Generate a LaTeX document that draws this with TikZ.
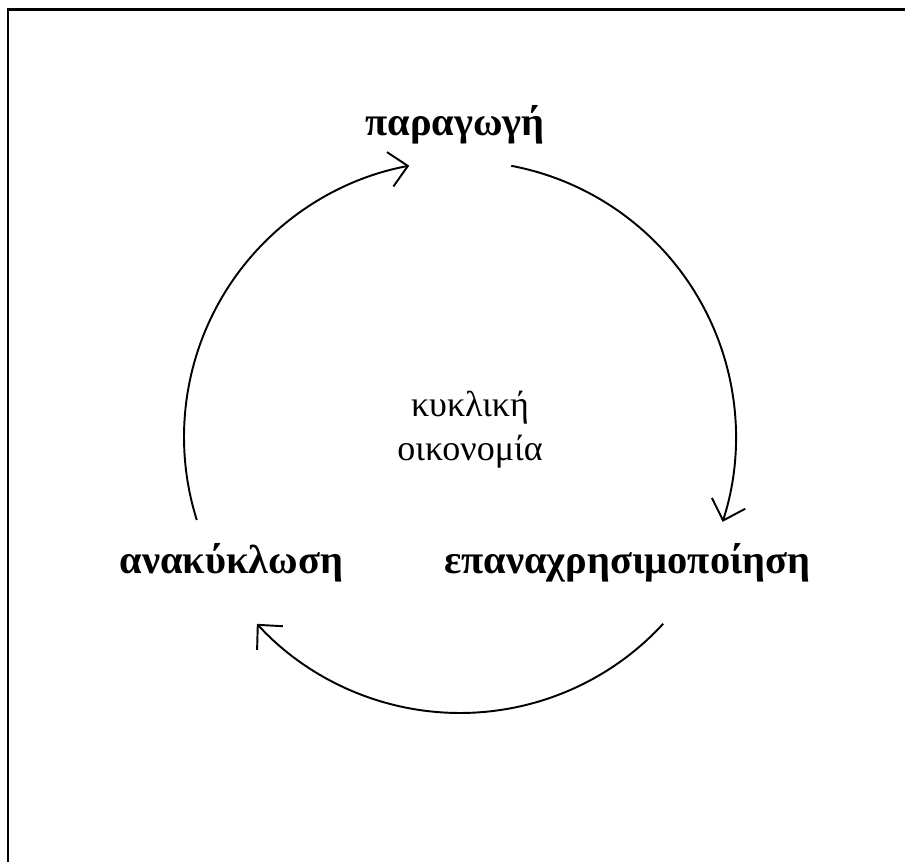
\documentclass[tikz,border=0pt]{standalone}
\usepackage{fontspec}
\setmainfont{Liberation Serif}
\usetikzlibrary{positioning, calc, arrows.meta}

\begin{document}
\begin{tikzpicture}[
    stagenode/.style={
        font=\fontsize{23}{27}\selectfont\bfseries,
        inner sep=0pt,
        anchor=base
    },
    centrenode/.style={
        font=\fontsize{20.5}{25}\selectfont,
        align=center,
        inner sep=0pt
    },
    arrow/.style={-{Straight Barb[length=3.6mm, width=7mm]}, line width=1.1pt},
    framebox/.style={line width=1.4pt}
]
\useasboundingbox (0,0) rectangle (18.1,-17.24);
% frame, cut off at the right and bottom
\begin{scope}
    \clip (0,0) rectangle (18.1,-17.24);
    \draw[framebox] (0.16,-0.19) rectangle (19,-18.5);
\end{scope}
\coordinate (hub) at (9.2,-8.74);
\node[stagenode] (production) at (9.1,-2.72) {παραγωγή};
\node[stagenode] (reuse) at (12.55,-11.46) {επαναχρησιμοποίηση};
\node[stagenode] (recycling) at (4.63,-11.46) {ανακύκλωση};
\node[centrenode] (economy) at (9.4,-8.6) {κυκλική\\οικονομία};
\coordinate (recycling-out) at ($(hub)+(197.5:5.52)$);
\coordinate (production-out) at ($(hub)+(79.3:5.52)$);
\coordinate (reuse-out) at ($(hub)+(-42.6:5.52)$);
\draw[arrow] (recycling-out) arc[start angle=197.5, end angle=100.6, radius=5.52];
\draw[arrow] (production-out) arc[start angle=79.3, end angle=-17.9, radius=5.52];
\draw[arrow] (reuse-out) arc[start angle=-42.6, end angle=-137.4, radius=5.52];
\end{tikzpicture}
\end{document}
